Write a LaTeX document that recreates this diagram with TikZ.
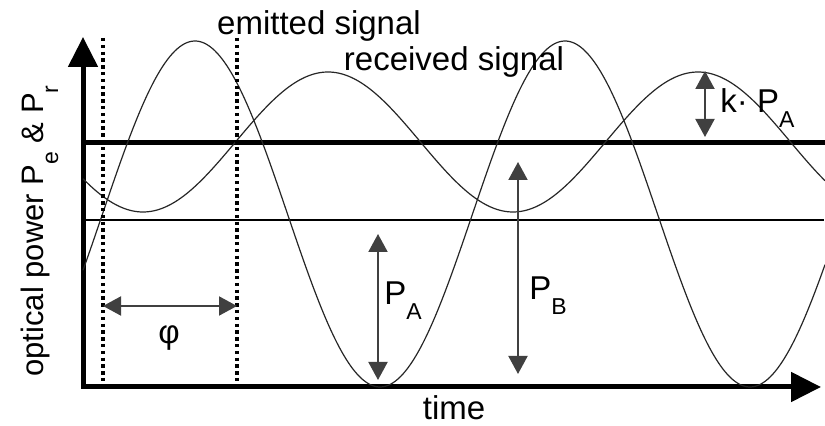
\documentclass[tikz,border=0pt]{standalone}
\usepackage{fontspec}
\setmainfont{Liberation Sans}
\usetikzlibrary{arrows.meta}

\newcommand{\lowsub}[1]{\raisebox{-7.5pt}{\fontsize{11.5}{11.5}\selectfont #1}}

\begin{document}
\begin{tikzpicture}[
    x=0.5pt, y=-0.5pt,
    axis/.style={line width=2.5pt, {Triangle[length=15pt, width=14.5pt]}-{Triangle[length=15pt, width=14.5pt]}},
    meanline/.style={line width=2.5pt},
    baseline/.style={line width=0.75pt},
    signal/.style={line width=0.6pt, black!85, domain=83:825, samples=300, smooth},
    marker/.style={line width=1.8pt, dash pattern=on 1.7pt off 1.7pt},
    dim/.style={line width=1pt, black!75, {Triangle[length=9pt, width=9.5pt]}-{Triangle[length=9pt, width=9.5pt]}},
    lbl/.style={inner sep=0pt, font=\fontsize{16.5}{19}\selectfont}
]
\useasboundingbox (0,0) rectangle (825,426);

% Axes
\coordinate (O) at (83,387);
\coordinate (ytip) at (83,37);
\coordinate (xtip) at (821,387);
\draw[axis] (ytip) -- (O) -- (xtip);

% Mean levels
\coordinate (rmeanL) at (83,143);
\coordinate (rmeanR) at (825,143);
\coordinate (emeanL) at (83,220);
\coordinate (emeanR) at (824,220);
\draw[meanline] (rmeanL) -- (rmeanR);
\draw[baseline] (emeanL) -- (emeanR);

% Signals
\draw[signal] plot (\x, {214-173*cos((\x-195)/370*360)});
\draw[signal] plot (\x, {142-70*cos((\x-328)/370*360)});

% Phase markers
\coordinate (mAtop) at (103,38);
\coordinate (mAbot) at (103,387);
\coordinate (mBtop) at (237,38);
\coordinate (mBbot) at (237,387);
\draw[marker] (mAtop) -- (mAbot);
\draw[marker] (mBtop) -- (mBbot);

% Dimensions
\coordinate (phiL) at (103,306);
\coordinate (phiR) at (237,306);
\coordinate (kTop) at (705,71);
\coordinate (kBot) at (705,137);
\coordinate (aTop) at (378,234);
\coordinate (aBot) at (378,380);
\coordinate (bTop) at (518,162);
\coordinate (bBot) at (518,374);
\draw[dim] (phiL) -- (phiR);
\draw[dim] (kTop) -- (kBot);
\draw[dim] (aTop) -- (aBot);
\draw[dim] (bTop) -- (bBot);

% Labels
\node[lbl, anchor=base] (emit) at (319,35) {emitted signal};
\node[lbl, anchor=base] (recv) at (454,71) {received signal};
\node[lbl, anchor=base] (time) at (454,420) {time};
\node[lbl] (phi) at (169,338) {φ};
\node[lbl, anchor=base west] (pa) at (384,305) {P\lowsub{A}};
\node[lbl, anchor=base west] (pb) at (529,300) {P\lowsub{B}};
\node[lbl, anchor=base west] (kpa) at (720,113) {k· P\lowsub{A}};
\node[lbl, rotate=90, anchor=base west, font=\fontsize{15.5}{18}\selectfont] (ylab) at (43,377) {optical power P\lowsub{e} \& P\lowsub{r}};

\end{tikzpicture}
\end{document}
